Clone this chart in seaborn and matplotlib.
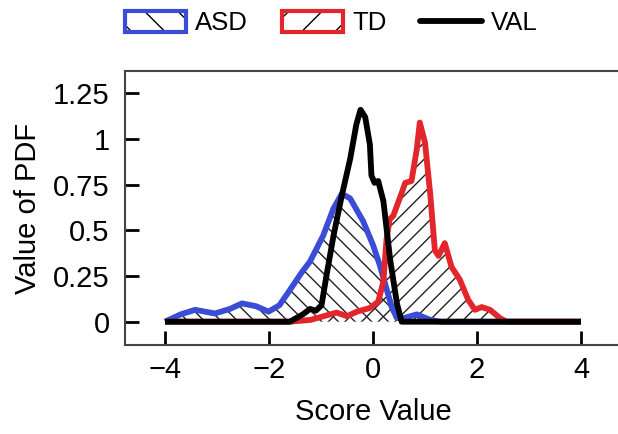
import matplotlib
matplotlib.use("Agg")
import matplotlib.pyplot as plt
import seaborn as sns
import pandas as pd
from matplotlib.patches import Patch
from matplotlib.lines import Line2D
from matplotlib.legend_handler import HandlerTuple

# ---- data ----
asd_x = [-4.0, -3.7, -3.42, -3.04, -2.75, -2.52, -2.25, -2.01, -1.8, -1.63, -1.37, -1.21,
         -0.96, -0.76, -0.6, -0.44, -0.19, 0.0, 0.13, 0.26, 0.36, 0.46, 0.6, 0.84, 1.1, 1.3, 4.0]
asd_y = [0.0, 0.04, 0.065, 0.045, 0.07, 0.10, 0.085, 0.055, 0.09, 0.16, 0.27, 0.33,
         0.47, 0.62, 0.70, 0.675, 0.55, 0.42, 0.31, 0.18, 0.08, 0.02, 0.02, 0.04, 0.01, 0.0, 0.0]

td_x = [-4.0, -1.6, -1.2, -0.95, -0.7, -0.5, -0.31, -0.06, 0.1, 0.2, 0.26, 0.32, 0.39, 0.52,
        0.62, 0.74, 0.84, 0.9, 1.0, 1.1, 1.19, 1.26, 1.38, 1.51, 1.67, 1.83, 1.96, 2.09,
        2.25, 2.44, 2.57, 4.0]
td_y = [0.0, 0.0, 0.01, 0.03, 0.05, 0.03, 0.055, 0.075, 0.11, 0.22, 0.45, 0.56, 0.58, 0.68,
        0.76, 0.77, 0.94, 1.09, 0.98, 0.70, 0.39, 0.36, 0.43, 0.30, 0.23, 0.12, 0.065, 0.08,
        0.065, 0.02, 0.0, 0.0]

val_x = [-4.0, -1.6, -1.35, -1.21, -1.1, -0.99, -0.89, -0.76, -0.6, -0.44, -0.32, -0.24,
         -0.15, -0.06, -0.03, 0.03, 0.10, 0.2, 0.33, 0.46, 0.55, 4.0]
val_y = [0.0, 0.0, 0.04, 0.07, 0.06, 0.09, 0.26, 0.47, 0.69, 0.89, 1.08, 1.16,
         1.12, 0.97, 0.80, 0.76, 0.77, 0.66, 0.34, 0.10, 0.0, 0.0]

series_names = ["ASD", "TD", "VAL"]
x_ticks = [-4, -2, 0, 2, 4]
y_ticks = [0, 0.25, 0.5, 0.75, 1, 1.25]
y_ticklabels = ["0", "0.25", "0.5", "0.75", "1", "1.25"]

BLUE = "#3b4cd6"
RED = "#e3262b"
BLACK = "#000000"

sns.set_style("ticks")
plt.rcParams["font.family"] = ["Liberation Sans", "DejaVu Sans"]
plt.rcParams["hatch.linewidth"] = 1.0
plt.rcParams["axes.unicode_minus"] = True
plt.rcParams["text.color"] = "black"
plt.rcParams["axes.labelcolor"] = "black"
plt.rcParams["xtick.color"] = "black"
plt.rcParams["ytick.color"] = "black"

fig = plt.figure(figsize=(6.18, 4.34), dpi=100)
ax = fig.add_axes([125 / 618, (434 - 345) / 434, (622 - 125) / 618, (345 - 71) / 434])

df_asd = pd.DataFrame({"x": asd_x, "y": asd_y})
df_td = pd.DataFrame({"x": td_x, "y": td_y})
df_val = pd.DataFrame({"x": val_x, "y": val_y})

# hatched areas
ax.fill_between(df_asd["x"], df_asd["y"], 0, facecolor="none", edgecolor="#222222",
                hatch="\\\\", linewidth=0, zorder=1)
ax.fill_between(df_td["x"], df_td["y"], 0, facecolor="none", edgecolor="#222222",
                hatch="//", linewidth=0, zorder=1)

lw = 4.2
sns.lineplot(data=df_asd, x="x", y="y", ax=ax, color=BLUE, linewidth=lw,
             sort=False, estimator=None, zorder=3)
sns.lineplot(data=df_td, x="x", y="y", ax=ax, color=RED, linewidth=lw,
             sort=False, estimator=None, zorder=4)
sns.lineplot(data=df_val, x="x", y="y", ax=ax, color=BLACK, linewidth=lw,
             sort=False, estimator=None, zorder=5)
for ln in ax.get_lines():
    ln.set_solid_joinstyle("round")
    ln.set_solid_capstyle("butt")

ax.set_xlim((125 - 373) / 52, (622 - 373) / 52)
ax.set_ylim((321.7 - 345) / 182.7, (321.7 - 71) / 182.7)
ax.set_xticks(x_ticks)
ax.set_yticks(y_ticks)
ax.set_yticklabels(y_ticklabels)

fs = 21
ax.tick_params(axis="both", direction="in", length=10, width=2, colors="black",
               labelsize=fs)
ax.tick_params(axis="y", pad=11)
ax.tick_params(axis="x", pad=8)
ax.tick_params(top=False, right=False)
for s in ax.spines.values():
    s.set_color("#444444")
    s.set_linewidth(1.5)
ax.spines["right"].set_visible(False)

ax.set_xlabel("Score Value", fontsize=fs, labelpad=10)
ax.set_ylabel("Value of PDF", fontsize=fs, labelpad=8)

# legend
h_asd = (Patch(facecolor="white", edgecolor="black", hatch="\\", linewidth=0),
         Patch(facecolor="none", edgecolor=BLUE, linewidth=3))
h_td = (Patch(facecolor="white", edgecolor="black", hatch="/", linewidth=0),
        Patch(facecolor="none", edgecolor=RED, linewidth=3))
h_val = Line2D([], [], color=BLACK, linewidth=lw)
fig.legend([h_asd, h_td, h_val], series_names, ncol=3, loc="center",
           bbox_to_anchor=(331 / 618, 1 - 23 / 434), frameon=False, fontsize=18.5,
           handlelength=2.4, handleheight=0.9, handletextpad=0.35, columnspacing=1.3,
           handler_map={tuple: HandlerTuple(ndivide=1, pad=0)})

fig.savefig("out.png", dpi=100)
